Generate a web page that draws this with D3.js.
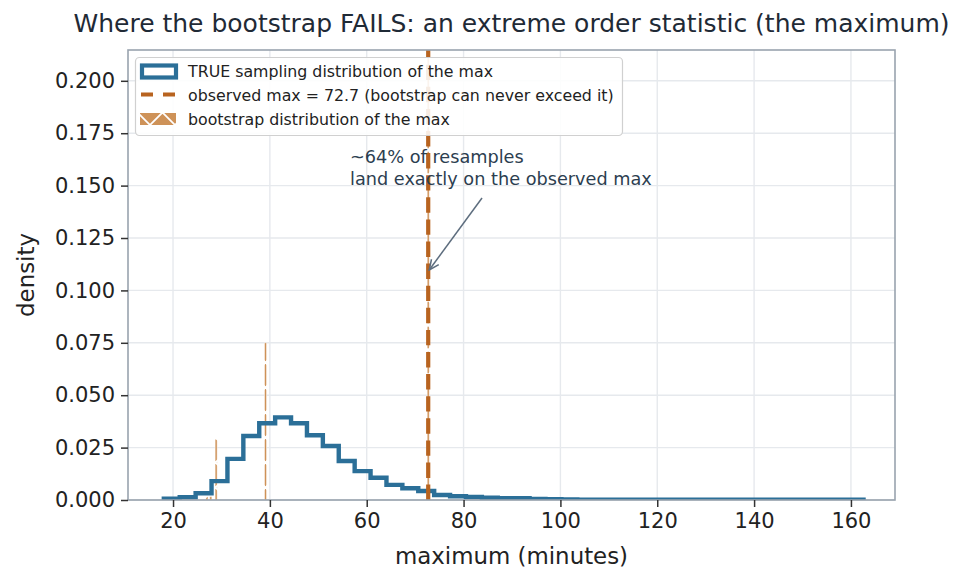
<!DOCTYPE html>
<html lang="en">
<head>
    <meta charset="UTF-8">
    <title>Bootstrap fails for the maximum</title>
    <script src="https://d3js.org/d3.v7.min.js"></script>
    <style>
        body {
            margin: 0;
            background: #fff;
            font-family: "DejaVu Sans", sans-serif;
        }
        svg text {
            font-family: "DejaVu Sans", sans-serif;
        }
    </style>
</head>
<body>
    <div id="chart"></div>

    <script>
        // TRUE sampling distribution of the max: equal-width bins between these limits
        const trueRange = [18.1, 162.6];
        const trueDensity = [
            0.0006, 0.0013, 0.0032, 0.0090, 0.0196, 0.0305, 0.0366, 0.0394, 0.0366, 0.0309,
            0.0258, 0.0186, 0.0138, 0.0106, 0.0072, 0.0056, 0.0043, 0.0024, 0.0018, 0.0014,
            0.0011, 0.0008, 0.0008, 0.0005, 0.0004, 0.0003, 0.0002, 0.0002, 0.0002, 0.0001,
            0.0001, 0.0001, 0.0001, 0.0001, 0.0001, 0.0001, 0.0001, 0.0001, 0.0001, 0.0001,
            0.0001, 0.0001, 0.0001, 0.0001
        ];

        // bootstrap distribution of the max (only sample values can appear)
        const bootValues = [27.0, 27.8, 28.9, 39.1, 72.7];
        const bootDensity = [0.0016, 0.0016, 0.029, 0.075, 0.88];
        const bootBinWidth = 0.42;

        const observedMax = 72.7;

        const xTicks = [20, 40, 60, 80, 100, 120, 140, 160];
        const yTicks = [0, 0.025, 0.05, 0.075, 0.1, 0.125, 0.15, 0.175, 0.2];

        const width = 962, height = 584;
        const margin = {top: 50, right: 67, bottom: 84, left: 128};
        const innerW = width - margin.left - margin.right;
        const innerH = height - margin.top - margin.bottom;

        const blue = "#2b6f98";
        const orange = "#b8631f";
        const tan = "#c98646";
        const spine = "#99a3ae";

        const svg = d3.select("#chart")
            .append("svg")
            .attr("width", width)
            .attr("height", height);

        const defs = svg.append("defs");

        // "x" hatch
        const hatch = defs.append("pattern")
            .attr("id", "hatchX")
            .attr("patternUnits", "userSpaceOnUse")
            .attr("width", 25)
            .attr("height", 25);
        hatch.append("rect").attr("width", 25).attr("height", 25).attr("fill", tan);
        hatch.append("path")
            .attr("d", "M-2,-2L27,27M-2,27L27,-2")
            .attr("stroke", "#fff")
            .attr("stroke-width", 1.8);

        defs.append("clipPath")
            .attr("id", "plotClip")
            .append("rect")
            .attr("width", innerW)
            .attr("height", innerH);

        defs.append("marker")
            .attr("id", "arrowHead")
            .attr("viewBox", "0 0 12 12")
            .attr("refX", 11)
            .attr("refY", 6)
            .attr("markerWidth", 12)
            .attr("markerHeight", 12)
            .attr("markerUnits", "userSpaceOnUse")
            .attr("orient", "auto")
            .append("path")
            .attr("d", "M1,1.5L11,6L1,10.5")
            .attr("fill", "none")
            .attr("stroke", "#5d6d7e")
            .attr("stroke-width", 1.5);

        const g = svg.append("g")
            .attr("transform", `translate(${margin.left},${margin.top})`);

        const x = d3.scaleLinear().domain([10.7, 169.1]).range([0, innerW]);
        const y = d3.scaleLinear().domain([0, 0.2147]).range([innerH, 0]);

        // 网格
        g.append("g")
            .selectAll("line")
            .data(xTicks)
            .join("line")
            .attr("x1", d => x(d)).attr("x2", d => x(d))
            .attr("y1", 0).attr("y2", innerH)
            .attr("stroke", "#e6e9ed")
            .attr("stroke-width", 1.4);
        g.append("g")
            .selectAll("line")
            .data(yTicks)
            .join("line")
            .attr("x1", 0).attr("x2", innerW)
            .attr("y1", d => y(d)).attr("y2", d => y(d))
            .attr("stroke", "#e6e9ed")
            .attr("stroke-width", 1.4);

        const plot = g.append("g").attr("clip-path", "url(#plotClip)");

        // bootstrap bars
        plot.append("g")
            .selectAll("rect")
            .data(bootValues.map((v, i) => ({v, d: bootDensity[i]})))
            .join("rect")
            .attr("x", d => x(d.v - bootBinWidth / 2))
            .attr("width", d => x(d.v + bootBinWidth / 2) - x(d.v - bootBinWidth / 2))
            .attr("y", d => y(d.d))
            .attr("height", d => y(0) - y(d.d))
            .attr("fill", "url(#hatchX)")
            .attr("fill-opacity", 0.9)
            .attr("stroke", "#fff")
            .attr("stroke-opacity", 0.6)
            .attr("stroke-width", 0.8);

        // TRUE distribution as a step outline
        const nb = trueDensity.length;
        const edges = d3.range(nb + 1).map(i => trueRange[0] + i * (trueRange[1] - trueRange[0]) / nb);
        const stepPts = [[edges[0], 0]];
        trueDensity.forEach((d, i) => {
            stepPts.push([edges[i], d]);
            stepPts.push([edges[i + 1], d]);
        });
        stepPts.push([edges[nb], 0]);

        plot.append("path")
            .datum(stepPts)
            .attr("d", d3.line().x(d => x(d[0])).y(d => y(d[1])))
            .attr("fill", "none")
            .attr("stroke", blue)
            .attr("stroke-width", 4.4)
            .attr("stroke-linejoin", "miter");

        // observed max
        plot.append("line")
            .attr("x1", x(observedMax)).attr("x2", x(observedMax))
            .attr("y1", innerH).attr("y2", 0)
            .attr("stroke", orange)
            .attr("stroke-width", 4.2)
            .attr("stroke-dasharray", "15.4,6.7");

        // spines
        g.append("rect")
            .attr("width", innerW)
            .attr("height", innerH)
            .attr("fill", "none")
            .attr("stroke", spine)
            .attr("stroke-width", 1.6);

        // axes
        const xAxis = g.append("g")
            .attr("transform", `translate(0,${innerH})`)
            .call(d3.axisBottom(x).tickValues(xTicks).tickSize(7).tickPadding(6));
        const yAxis = g.append("g")
            .call(d3.axisLeft(y).tickValues(yTicks).tickFormat(d3.format(".3f")).tickSize(7).tickPadding(6));

        [xAxis, yAxis].forEach(a => {
            a.select(".domain").remove();
            a.selectAll(".tick line").attr("stroke", "#333").attr("stroke-width", 1.5);
            a.selectAll(".tick text")
                .attr("fill", "#222")
                .style("font-size", "21px");
        });

        // labels
        svg.append("text")
            .attr("x", margin.left + innerW / 2)
            .attr("y", 564)
            .attr("text-anchor", "middle")
            .style("font-size", "22.9px")
            .attr("fill", "#222")
            .text("maximum (minutes)");

        svg.append("text")
            .attr("transform", `translate(34,${margin.top + innerH / 2}) rotate(-90)`)
            .attr("text-anchor", "middle")
            .style("font-size", "22.9px")
            .attr("fill", "#222")
            .text("density");

        svg.append("text")
            .attr("x", margin.left + innerW / 2)
            .attr("y", 31.5)
            .attr("text-anchor", "middle")
            .style("font-size", "25px")
            .attr("fill", "#1f2a36")
            .text("Where the bootstrap FAILS: an extreme order statistic (the maximum)");

        // annotation
        const note = svg.append("text")
            .attr("x", 350)
            .attr("y", 163)
            .style("font-size", "17.7px")
            .attr("fill", "#2c3e50");
        note.append("tspan").attr("x", 350).text("~64% of resamples");
        note.append("tspan").attr("x", 350).attr("dy", 22).text("land exactly on the observed max");

        svg.append("line")
            .attr("x1", 482).attr("y1", 198)
            .attr("x2", margin.left + x(observedMax) + 1).attr("y2", 270)
            .attr("stroke", "#5d6d7e")
            .attr("stroke-width", 1.5)
            .attr("marker-end", "url(#arrowHead)");

        // legend
        const lg = svg.append("g");
        lg.append("rect")
            .attr("x", 135.5).attr("y", 57.5)
            .attr("width", 487).attr("height", 78)
            .attr("rx", 4)
            .attr("fill", "#fff")
            .attr("fill-opacity", 0.88)
            .attr("stroke", "#d0d0d0")
            .attr("stroke-width", 1.2);

        lg.append("rect")
            .attr("x", 142).attr("y", 65.5)
            .attr("width", 34).attr("height", 12)
            .attr("fill", "#fff")
            .attr("stroke", blue)
            .attr("stroke-width", 4.2);

        lg.append("line")
            .attr("x1", 141).attr("x2", 177)
            .attr("y1", 94.5).attr("y2", 94.5)
            .attr("stroke", orange)
            .attr("stroke-width", 4.2)
            .attr("stroke-dasharray", "12,10");

        lg.append("rect")
            .attr("x", 140).attr("y", 113)
            .attr("width", 36).attr("height", 12)
            .attr("fill", "url(#hatchX)")
            .attr("fill-opacity", 0.9);

        const legendLabels = [
            "TRUE sampling distribution of the max",
            "observed max = 72.7 (bootstrap can never exceed it)",
            "bootstrap distribution of the max"
        ];
        lg.selectAll("text.leg")
            .data(legendLabels)
            .join("text")
            .attr("class", "leg")
            .attr("x", 188)
            .attr("y", (d, i) => 77 + i * 24)
            .style("font-size", "15.8px")
            .attr("fill", "#222")
            .text(d => d);
    </script>
</body>
</html>
